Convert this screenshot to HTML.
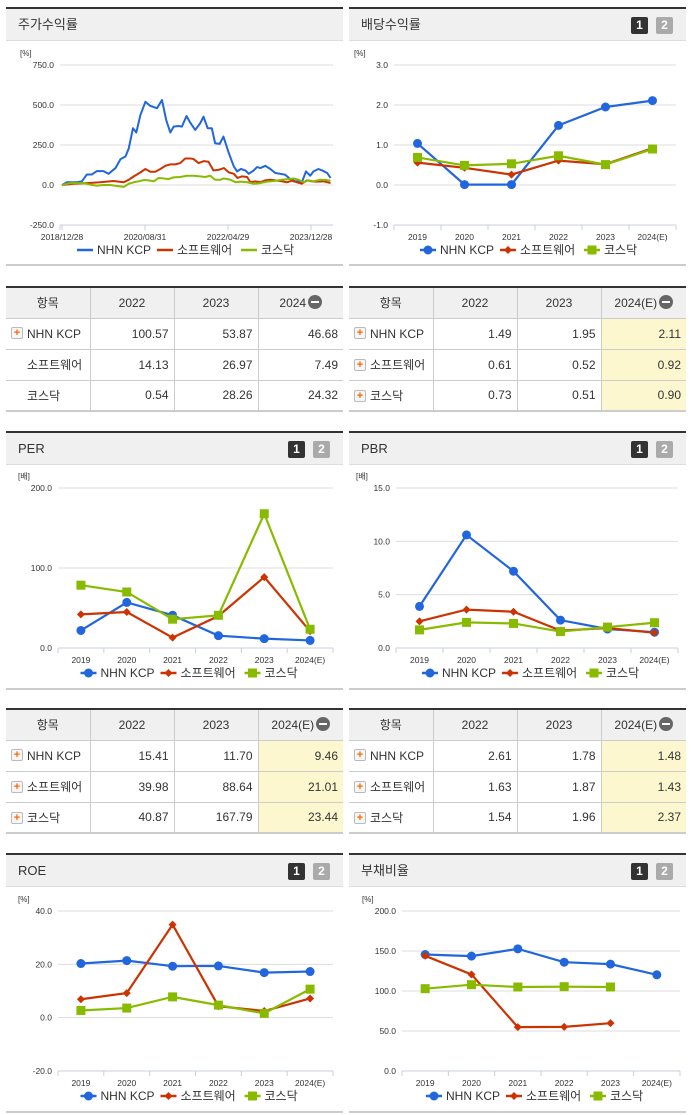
<!DOCTYPE html>
<html><head><meta charset="utf-8">
<style>
*{box-sizing:border-box;margin:0;padding:0}
body{width:691px;height:1115px;background:#fff;font-family:"Liberation Sans","Noto Sans CJK KR",sans-serif;position:relative;overflow:hidden;color:#333}
.panel{position:absolute;width:337px;border-top:2px solid #333;}
.hdr{height:32px;background:#f0f0f0;border-bottom:1px solid #ddd;font-size:13px;line-height:31px;padding-left:12px;position:relative}
.pg{position:absolute;top:8px;width:17px;height:17px;color:#fff;font-size:12px;font-weight:bold;line-height:17px;text-align:center;border-radius:2px}
.pg1{right:38px;background:#333}.pg2{right:13px;background:#aaa}
.cbot{position:absolute;height:2px;background:#ccc;width:337px}
table{position:absolute;width:337px;border-collapse:collapse;font-size:12px;border-top:2px solid #333;border-bottom:2px solid #ccc}
td,th{border:1px solid #ccc;height:31px;font-weight:normal;vertical-align:middle}
tr td:first-child,tr th:first-child{border-left:none}
tr td:last-child,tr th:last-child{border-right:none}
th{background:#f0f0f0;height:31px}
td{text-align:right;padding-right:5px}
td.n{text-align:left;padding-left:5px}
td.hl{background:#fdf7cf}
.ic{display:inline-block;width:12px;height:12px;border:1px solid #bbb;border-radius:2px;background:#f6f6f6;color:#f60;font-size:11px;line-height:10px;text-align:center;font-weight:bold;vertical-align:middle;margin-right:4px;margin-top:-2px}
.sp{display:inline-block;width:16px}
.mi{display:inline-block;width:14px;height:14px;border-radius:7px;background:#666;vertical-align:-2px;margin-left:2px;position:relative}
.mi:after{content:"";position:absolute;left:3px;top:6px;width:8px;height:2px;background:#fff}
svg{position:absolute;left:0;top:0}
</style></head><body>
<div class="panel" style="left:6px;top:7px"><div class="hdr">주가수익률</div></div>
<div class="cbot" style="left:6px;top:264px"></div>
<div class="panel" style="left:349px;top:7px"><div class="hdr">배당수익률<span class="pg pg1">1</span><span class="pg pg2">2</span></div></div>
<div class="cbot" style="left:349px;top:264px"></div>
<div class="panel" style="left:6px;top:431px"><div class="hdr">PER<span class="pg pg1">1</span><span class="pg pg2">2</span></div></div>
<div class="cbot" style="left:6px;top:688px"></div>
<div class="panel" style="left:349px;top:431px"><div class="hdr">PBR<span class="pg pg1">1</span><span class="pg pg2">2</span></div></div>
<div class="cbot" style="left:349px;top:688px"></div>
<div class="panel" style="left:6px;top:853px"><div class="hdr">ROE<span class="pg pg1">1</span><span class="pg pg2">2</span></div></div>
<div class="cbot" style="left:6px;top:1111px"></div>
<div class="panel" style="left:349px;top:853px"><div class="hdr">부채비율<span class="pg pg1">1</span><span class="pg pg2">2</span></div></div>
<div class="cbot" style="left:349px;top:1111px"></div>

<table style="left:6px;top:286px">
<colgroup><col style="width:84px"><col style="width:84px"><col style="width:84px"><col></colgroup>
<tr><th>항목</th><th>2022</th><th>2023</th><th>2024<span class="mi"></span></th></tr>
<tr><td class="n"><span class="ic">+</span>NHN KCP</td><td>100.57</td><td>53.87</td><td>46.68</td></tr>
<tr><td class="n"><span class="sp"></span>소프트웨어</td><td>14.13</td><td>26.97</td><td>7.49</td></tr>
<tr><td class="n"><span class="sp"></span>코스닥</td><td>0.54</td><td>28.26</td><td>24.32</td></tr>
</table>
<table style="left:349px;top:286px">
<colgroup><col style="width:84px"><col style="width:84px"><col style="width:84px"><col></colgroup>
<tr><th>항목</th><th>2022</th><th>2023</th><th>2024(E)<span class="mi"></span></th></tr>
<tr><td class="n"><span class="ic">+</span>NHN KCP</td><td>1.49</td><td>1.95</td><td class="hl">2.11</td></tr>
<tr><td class="n"><span class="ic">+</span>소프트웨어</td><td>0.61</td><td>0.52</td><td class="hl">0.92</td></tr>
<tr><td class="n"><span class="ic">+</span>코스닥</td><td>0.73</td><td>0.51</td><td class="hl">0.90</td></tr>
</table>
<table style="left:6px;top:708px">
<colgroup><col style="width:84px"><col style="width:84px"><col style="width:84px"><col></colgroup>
<tr><th>항목</th><th>2022</th><th>2023</th><th>2024(E)<span class="mi"></span></th></tr>
<tr><td class="n"><span class="ic">+</span>NHN KCP</td><td>15.41</td><td>11.70</td><td class="hl">9.46</td></tr>
<tr><td class="n"><span class="ic">+</span>소프트웨어</td><td>39.98</td><td>88.64</td><td class="hl">21.01</td></tr>
<tr><td class="n"><span class="ic">+</span>코스닥</td><td>40.87</td><td>167.79</td><td class="hl">23.44</td></tr>
</table>
<table style="left:349px;top:708px">
<colgroup><col style="width:84px"><col style="width:84px"><col style="width:84px"><col></colgroup>
<tr><th>항목</th><th>2022</th><th>2023</th><th>2024(E)<span class="mi"></span></th></tr>
<tr><td class="n"><span class="ic">+</span>NHN KCP</td><td>2.61</td><td>1.78</td><td class="hl">1.48</td></tr>
<tr><td class="n"><span class="ic">+</span>소프트웨어</td><td>1.63</td><td>1.87</td><td class="hl">1.43</td></tr>
<tr><td class="n"><span class="ic">+</span>코스닥</td><td>1.54</td><td>1.96</td><td class="hl">2.37</td></tr>
</table>

<svg id="cv" width="691" height="1115"></svg>
<script>
const seriesNames=["NHN KCP","소프트웨어","코스닥"];
const years=["2019","2020","2021","2022","2023","2024(E)"];
const stockDateLabels=["2018/12/28","2020/08/31","2022/04/29","2023/12/28"];
const stockDateMonths=[0,20,40,60];
const stockTicks=[750,500,250,0,-250];
const nhnMonths=[0,1.2,3.6,4.8,6.0,7.2,8.4,10.0,11.2,12.9,14.1,15.3,16.1,17.1,17.9,18.9,20.1,21.3,22.9,24.1,25.1,26.1,26.9,28.1,28.9,30.0,30.9,32.1,33.3,34.1,35.1,36.1,36.9,38.0,38.9,40.2,41.4,42.2,43.1,44.2,45.0,46.2,47.0,47.8,49.0,50.2,51.4,52.6,53.8,55.0,56.2,57.4,57.8,58.8,59.8,60.6,61.8,62.7,63.9,64.7];
const nhnReturn=[0,17,17,23,66,66,87,87,70,106,162,178,230,355,328,438,520,494,480,531,407,328,365,369,365,431,390,344,386,427,355,355,261,257,303,199,116,85,100,91,70,91,112,106,120,100,75,70,64,37,23,23,17,85,58,85,100,91,75,44];
const swMonths=[0,2.8,6.0,9.2,12.4,14.9,16.1,17.3,18.9,20.1,21.3,22.5,23.7,24.9,26.1,27.3,28.5,29.7,30.9,31.7,32.9,34.1,35.3,36.5,37.8,39.0,40.2,41.4,42.3,43.4,44.6,45.4,46.6,47.8,49.0,50.2,51.4,53.0,54.2,55.4,56.6,57.8,59.0,60.2,61.4,63.1,64.7];
const swReturn=[0,8,12,17,25,17,33,54,79,100,83,83,100,120,129,129,137,166,166,162,137,149,145,91,95,106,79,70,44,54,50,17,23,17,29,33,29,23,17,27,17,8,29,23,21,23,12];
const kqMonths=[0,2.0,5.2,6.8,8.4,10.0,11.6,13.7,14.9,16.1,17.3,18.5,19.7,20.9,22.1,23.3,24.5,25.7,26.9,28.5,30.1,31.7,33.3,34.5,35.7,36.9,38.2,39.0,40.6,41.8,43.0,44.6,46.2,47.8,49.4,51.0,53.0,54.6,55.8,57.0,58.2,59.4,60.6,62.2,63.5,64.7];
const kqReturn=[0,12,12,2,-4,0,0,-8,-12,8,17,23,31,29,23,44,41,37,48,50,58,58,54,50,58,33,33,41,33,17,21,17,8,12,21,25,33,37,41,33,17,29,23,33,31,27];

const divTicks=[3,2,1,0,-1];
const divNhn=[1.04,0.01,0.01,1.49,1.95,2.11];
const divSw=[0.56,0.43,0.26,0.61,0.52,0.92];
const divKq=[0.69,0.49,0.53,0.73,0.51,0.90];
const perTicks=[200,100,0];
const perNhn=[21.9,57,41,15.41,11.70,9.46];
const perSw=[42,45,13,39.98,88.64,21.01];
const perKq=[78.5,70,36,40.87,167.79,23.44];
const pbrTicks=[15,10,5,0];
const pbrNhn=[3.9,10.6,7.2,2.61,1.78,1.48];
const pbrSw=[2.5,3.6,3.4,1.63,1.87,1.43];
const pbrKq=[1.7,2.4,2.3,1.54,1.96,2.37];
const roeTicks=[40,20,0,-20];
const roeNhn=[20.3,21.4,19.3,19.4,16.9,17.3];
const roeSw=[6.9,9.2,34.9,4.3,2.5,7.2];
const roeKq=[2.7,3.6,7.8,4.7,1.6,10.7];
const debtTicks=[200,150,100,50,0];
const debtNhn=[145.6,143.6,152.7,136,133.6,120.3];
const debtSw=[144,120.7,54.8,55.2,59.8,null];
const debtKq=[102.9,107.9,105,105.4,105,null];

const NS="http://www.w3.org/2000/svg";
const svg=document.getElementById('cv');
const COLORS=["#2266dd","#cc3300","#88bb00"];
function mk(tag,attrs,parent){const e=document.createElementNS(NS,tag);for(const k in attrs)e.setAttribute(k,attrs[k]);(parent||svg).appendChild(e);return e;}
function txt(x,y,s,size,anchor,parent,fill){const t=mk('text',{x:x,y:y,'font-size':size,'text-anchor':anchor||'start',fill:fill||'#333','font-family':'"Liberation Sans","Noto Sans CJK KR",sans-serif'},parent);t.textContent=s;return t;}

function axes(g,L,R,T,B,ticks,unit){
  const mn=ticks[ticks.length-1],mx=ticks[0];
  const y=v=>B-(v-mn)/(mx-mn)*(B-T);
  txt(L-40,T-9,unit,8,'start',g);
  ticks.forEach(v=>{
    const gl=mk('line',{x1:L,x2:R,y1:y(v),y2:y(v),stroke:'#ddd','stroke-width':1},g);
    
    
    const t=txt(L-6,y(v)+3,v.toFixed(1),8.5,'end',g);
    
    
  });
  mk('line',{x1:L,x2:R,y1:B,y2:B,stroke:'#c8d0dc','stroke-width':1},g);
  return y;
}
function marker(g,i,x,y){
  const c=COLORS[i];let m;
  if(i===0)m=mk('circle',{cx:x,cy:y,r:4.5,fill:c},g);
  else if(i===1)m=mk('path',{d:`M${x} ${y-4}L${x+4} ${y}L${x} ${y+4}L${x-4} ${y}Z`,fill:c},g);
  else m=mk('rect',{x:x-4.5,y:y-4.5,width:9,height:9,fill:c},g);
  return m;
}
function legend(g,cx,y,markers){
  const widths=[80,84,54];const total=widths.reduce((a,b)=>a+b,0);
  let x=cx-total/2;
  seriesNames.forEach((n,i)=>{
    const lg=mk('g',{},g);
    
    
    mk('line',{x1:x,x2:x+16,y1:y-4,y2:y-4,stroke:COLORS[i],'stroke-width':2.5},lg);
    if(markers)marker(lg,i,x+8,y-4);
    txt(x+20,y,n,12,'start',lg,'#333');
    x+=widths[i];
  });
}
function yearChart(name,L,R,T,B,ticks,unit,data){
  const g=mk('g',{});
  
  
  const y=axes(g,L,R,T,B,ticks,unit);
  const bw=(R-L)/years.length;
  const x=i=>L+bw*(i+0.5);
  for(let i=0;i<=years.length;i++)mk('line',{x1:L+bw*i,x2:L+bw*i,y1:B,y2:B+5,stroke:'#c8d0dc'},g);
  years.forEach((yr,i)=>{const t=txt(x(i),B+15,yr,8.5,'middle',g);});
  data.forEach((arr,si)=>{
    const pts=[];arr.forEach((v,i)=>{if(v!==null)pts.push([x(i),y(v)]);});
    const p=mk('polyline',{points:pts.map(p=>p.join(',')).join(' '),fill:'none',stroke:COLORS[si],'stroke-width':2.2},g);
    
    
    pts.forEach(pt=>{const m=marker(g,si,pt[0],pt[1]);});
  });
  legend(g,(L+R)/2-6,B+29,true);
}
(function(){
  const g=mk('g',{});
  
  
  const L=60,R=333,T=65,B=225;
  const y=axes(g,L,R,T,B,stockTicks,'[%]');
  const x=m=>62+m*4.15;
  stockDateMonths.forEach((m,i)=>{
    mk('line',{x1:x(m),x2:x(m),y1:B,y2:B+5,stroke:'#c8d0dc'},g);
    const t=txt(x(m),B+15,stockDateLabels[i],8.5,'middle',g);
    
    
  });
  mk('line',{x1:L,x2:L,y1:B,y2:B+5,stroke:'#c8d0dc'},g);
  [[nhnMonths,nhnReturn],[swMonths,swReturn],[kqMonths,kqReturn]].forEach((s,si)=>{
    const pts=s[0].map((m,i)=>x(m)+','+y(s[1][i])).join(' ');
    const p=mk('polyline',{points:pts,fill:'none',stroke:COLORS[si],'stroke-width':2,'stroke-linejoin':'round'},g);
    
    
  });
  legend(g,186,254,false);
})();
yearChart('dividend-chart',394,676,65,225,divTicks,'[%]',[divNhn,divSw,divKq]);
yearChart('per-chart',58,333,488,648,perTicks,'[배]',[perNhn,perSw,perKq]);
yearChart('pbr-chart',396,678,488,648,pbrTicks,'[배]',[pbrNhn,pbrSw,pbrKq]);
yearChart('roe-chart',58,333,911,1071,roeTicks,'[%]',[roeNhn,roeSw,roeKq]);
yearChart('debt-ratio-chart',402,680,911,1071,debtTicks,'[%]',[debtNhn,debtSw,debtKq]);
</script>
</body></html>
